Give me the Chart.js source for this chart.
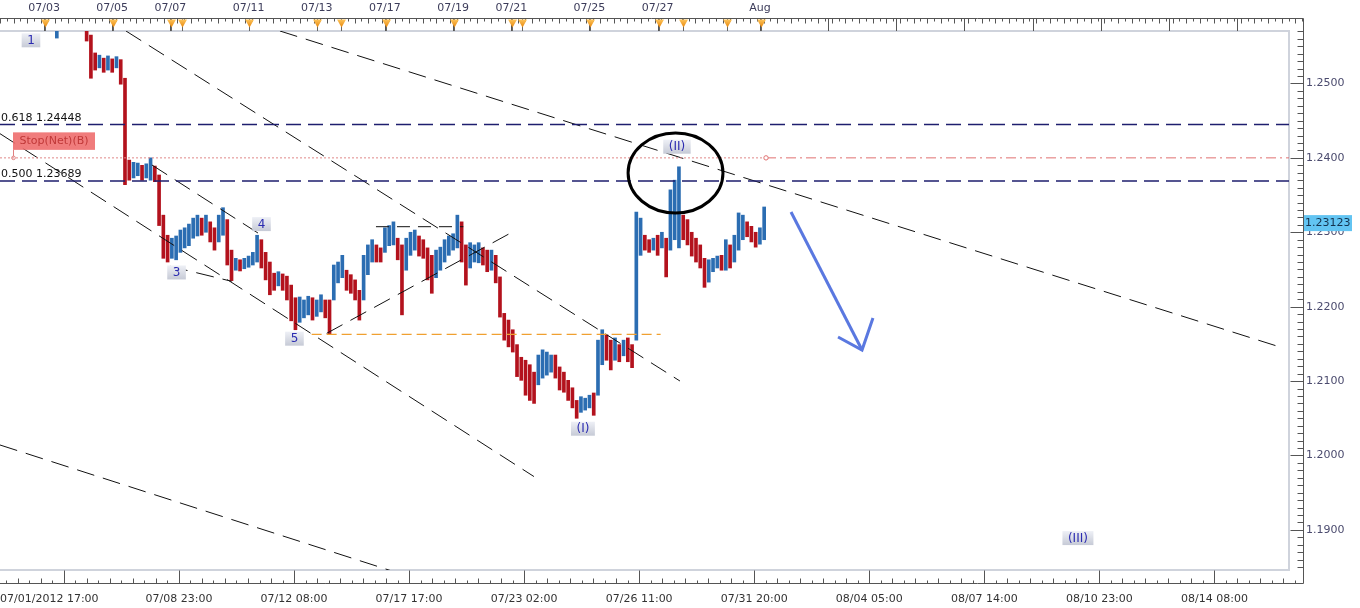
<!DOCTYPE html>
<html><head><meta charset="utf-8">
<script src="https://cdn.jsdelivr.net/npm/chart.js@4.4.1/dist/chart.umd.min.js"></script>
<style>html,body{margin:0;padding:0;background:#fff;overflow:hidden}#wrap{position:relative;width:1360px;height:608px}</style>
</head><body><div id="wrap"><canvas id="c" width="1360" height="608"></canvas></div>
<script>
// ---- price bars (3-hour bars, hour index counted in trading hours from 07/01/2012 17:00) ----
const startHour = 40;
const stepHours = 3;
const highs = [1.2579,1.2602,1.2598,1.2603,1.2597,1.2594,1.2590,1.2582,1.2565,1.2541,
1.2538,1.2534,1.2537,1.2533,1.2536,1.2532,1.2507,1.2397,1.2394,1.2393,
1.2390,1.2392,1.2400,1.2389,1.2377,1.2323,1.2296,1.2292,1.2295,1.2303,
1.2306,1.2311,1.2319,1.2323,1.2319,1.2323,1.2314,1.2306,1.2323,1.2333,
1.2317,1.2276,1.2265,1.2263,1.2265,1.2268,1.2273,1.2296,1.2290,1.2273,
1.2260,1.2245,1.2247,1.2244,1.2241,1.2229,1.2212,1.2213,1.2209,1.2214,
1.2212,1.2209,1.2216,1.2209,1.2209,1.2256,1.2260,1.2269,1.2249,1.2243,
1.2236,1.2222,1.2269,1.2283,1.2290,1.2283,1.2279,1.2306,1.2309,1.2314,
1.2292,1.2283,1.2292,1.2300,1.2303,1.2295,1.2290,1.2279,1.2269,1.2276,
1.2280,1.2290,1.2295,1.2298,1.2323,1.2314,1.2283,1.2286,1.2283,1.2286,
1.2279,1.2276,1.2276,1.2269,1.2240,1.2191,1.2182,1.2169,1.2149,1.2132,
1.2128,1.2122,1.2112,1.2135,1.2142,1.2139,1.2135,1.2135,1.2119,1.2112,
1.2101,1.2091,1.2074,1.2079,1.2077,1.2081,1.2084,1.2155,1.2169,1.2162,
1.2155,1.2158,1.2149,1.2155,1.2158,1.2149,1.2327,1.2319,1.2296,1.2290,
1.2292,1.2296,1.2300,1.2292,1.2357,1.2370,1.2388,1.2323,1.2317,1.2300,
1.2292,1.2283,1.2265,1.2263,1.2265,1.2268,1.2269,1.2290,1.2283,1.2296,
1.2326,1.2323,1.2314,1.2308,1.2300,1.2306,1.2334];
const lows = [1.2561,1.2580,1.2578,1.2582,1.2576,1.2574,1.2573,1.2557,1.2507,1.2518,
1.2521,1.2515,1.2518,1.2515,1.2521,1.2499,1.2364,1.2370,1.2373,1.2376,
1.2370,1.2373,1.2370,1.2368,1.2309,1.2265,1.2260,1.2265,1.2263,1.2273,
1.2279,1.2282,1.2292,1.2295,1.2296,1.2300,1.2287,1.2276,1.2287,1.2296,
1.2256,1.2235,1.2249,1.2248,1.2251,1.2253,1.2256,1.2260,1.2252,1.2236,
1.2216,1.2222,1.2228,1.2222,1.2209,1.2181,1.2169,1.2179,1.2185,1.2189,
1.2182,1.2187,1.2193,1.2185,1.2163,1.2209,1.2232,1.2239,1.2222,1.2218,
1.2209,1.2182,1.2209,1.2243,1.2260,1.2260,1.2260,1.2273,1.2282,1.2283,
1.2263,1.2189,1.2249,1.2269,1.2276,1.2268,1.2265,1.2236,1.2218,1.2239,
1.2249,1.2260,1.2269,1.2276,1.2279,1.2260,1.2229,1.2252,1.2260,1.2259,
1.2256,1.2247,1.2249,1.2232,1.2186,1.2155,1.2146,1.2139,1.2106,1.2101,
1.2081,1.2074,1.2070,1.2095,1.2104,1.2108,1.2112,1.2104,1.2088,1.2085,
1.2074,1.2064,1.2050,1.2058,1.2061,1.2064,1.2054,1.2081,1.2122,1.2128,
1.2115,1.2128,1.2126,1.2134,1.2126,1.2118,1.2155,1.2269,1.2276,1.2273,
1.2276,1.2269,1.2279,1.2240,1.2276,1.2290,1.2279,1.2290,1.2283,1.2268,
1.2260,1.2252,1.2226,1.2233,1.2247,1.2252,1.2249,1.2249,1.2252,1.2260,
1.2276,1.2290,1.2294,1.2287,1.2280,1.2284,1.2290];
const lastPrice = 1.23123;

// ---- axes ----
const yTickValues = [1.19, 1.20, 1.21, 1.22, 1.23, 1.24, 1.25];
const yTickLabels = ['1.1900','1.2000','1.2100','1.2200','1.2300','1.2400','1.2500'];
const xTickHours = [0, 126, 207, 288, 369, 450, 531, 612, 693, 774, 855];
const xTickLabels = ['07/01/2012 17:00','07/08 23:00','07/12 08:00','07/17 17:00','07/23 02:00','07/26 11:00','07/31 20:00','08/04 05:00','08/07 14:00','08/10 23:00','08/14 08:00'];
const topDateHours = [31, 79, 120, 175, 223, 271, 319, 360, 415, 463, 535];
const topDateLabels = ['07/03','07/05','07/07','07/11','07/13','07/17','07/19','07/21','07/25','07/27','Aug'];
const topFutureHours = [583, 631, 679, 727, 775, 823, 871];
const eventHours = [31.7, 79.6, 120.4, 128.1, 175.3, 223.2, 240.1, 271.8, 319.6, 360.5, 367.5, 415.4, 464, 480.9, 511.8, 535.8];

// ---- drawn levels / annotations (hour, price) ----
const fib618 = 1.24448, fib500 = 1.23689, stopLevel = 1.2400, supportLevel = 1.21629;
const trendLines = [
  [[88.7, 1.25705], [478.7, 1.21001]],
  [[0, 1.24325], [375.9, 1.19717]],
  [[197.1, 1.25705], [903.3, 1.21445]],
  [[0, 1.20141], [278.1, 1.18434]],
  [[119.7, 1.22543], [163.1, 1.22341]],
  [[107.0, 1.23904], [181.6, 1.22990]],
  [[230.0, 1.21642], [359.1, 1.22986]]
];
const neckLine = [[264.7, 1.23075], [326.2, 1.23075]];
const supportSpan = [219.4, 465.1];
const arrowShaft = [[556.9, 1.23272], [606.9, 1.21417]];
const arrowHead = [[590.0, 1.21592], [606.9, 1.21417], [614.6, 1.21848]];
const waveLabels = [
  {text: '1', h: 21.8, p: 1.2558},
  {text: '3', h: 124.3, p: 1.2246},
  {text: '4', h: 184.1, p: 1.2311},
  {text: '5', h: 207.3, p: 1.2157},
  {text: '(I)', h: 410.4, p: 1.2036},
  {text: '(II)', h: 476.6, p: 1.2415},
  {text: '(III)', h: 758.9, p: 1.1889}
];
const circleMark = {h: 475.6, p: 1.23797, rh: 33.4, rp: 0.005376};

const X_MIN = 0, X_MAX = 907.5, Y_MIN = 1.18461, Y_MAX = 1.25705;
const FONT = '"DejaVu Sans", Verdana, sans-serif';
const RED = '#b3121d', BLUE = '#2b6db2';

const pts = arr => arr.map(([h, p]) => ({x: h, y: p}));
const lineDs = (data, color, width, dash, extra) => Object.assign({
  type: 'line', data, borderColor: color, borderWidth: width, borderDash: dash,
  pointRadius: 0, pointHoverRadius: 0, fill: false, tension: 0, order: 0
}, extra || {});

const datasets = [
  {
    type: 'bar', order: 10,
    data: highs.map((hi, i) => ({x: startHour + i * stepHours, y: [lows[i], hi]})),
    barThickness: 3,
    backgroundColor: ctx => {
      const i = ctx.dataIndex;
      const mid = (highs[i] + lows[i]) / 2;
      const prev = i > 0 ? (highs[i - 1] + lows[i - 1]) / 2 : mid;
      return mid >= prev ? BLUE : RED;
    },
    borderWidth: 0
  },
  lineDs(pts([[X_MIN, fib618], [X_MAX, fib618]]), '#1e1e6e', 1.5, [15, 7]),
  lineDs(pts([[X_MIN, fib500], [X_MAX, fib500]]), '#1e1e6e', 1.5, [15, 7]),
  lineDs(pts([[X_MIN, stopLevel], [537.5, stopLevel]]), '#e08888', 1, [2, 2]),
  lineDs(pts([[539.3, stopLevel], [X_MAX, stopLevel]]), '#e07070', 1, [10, 4, 2, 4],
    {pointRadius: [2.2, 0], pointBackgroundColor: '#fff', pointBorderColor: '#e07070', pointBorderWidth: 1}),
  lineDs(pts([[supportSpan[0], supportLevel], [supportSpan[1], supportLevel]]), '#f0a030', 1.2, [10, 5]),
  lineDs(pts(neckLine), '#111', 1, [13, 8]),
  ...trendLines.map(l => lineDs(pts(l), '#111', 1, [18, 9])),
  lineDs(pts(arrowShaft), '#5a78e0', 3, []),
  lineDs(pts(arrowHead), '#5a78e0', 3, [])
];

const overlay = {
  id: 'overlay',
  beforeDatasetsDraw(chart) {
    const {ctx, chartArea: a} = chart;
    ctx.save();
    ctx.strokeStyle = '#cfd3dc';
    ctx.lineWidth = 2;
    ctx.beginPath();
    ctx.moveTo(0, a.top); ctx.lineTo(a.right, a.top); ctx.lineTo(a.right, a.bottom); ctx.lineTo(0, a.bottom);
    ctx.stroke();
    ctx.restore();
  },
  afterDraw(chart) {
    const {ctx, chartArea: a, scales} = chart;
    const X = h => scales.x.getPixelForValue(h);
    const Y = p => scales.y.getPixelForValue(p);
    const axisX = 1303.5, rulerY = 18.5, bottomY = 583.5;
    ctx.save();
    const seg = (x1, y1, x2, y2) => { ctx.beginPath(); ctx.moveTo(x1, y1); ctx.lineTo(x2, y2); ctx.stroke(); };

    // top ruler
    ctx.strokeStyle = '#555';
    ctx.lineWidth = 1;
    seg(0, rulerY, axisX, rulerY);
    let n = 0;
    for (let h = 0; X(h) < axisX; h += 4.8, n++) {
      const px = Math.round(X(h)) + 0.5;
      seg(px, rulerY, px, rulerY + (n % 2 ? 3 : 5));
    }
    [...topDateHours, ...topFutureHours].forEach(h => {
      const px = Math.round(X(h)) + 0.5;
      seg(px, rulerY, px, a.top);
    });
    // event markers
    eventHours.forEach(h => {
      const px = Math.round(X(h)) + 0.5;
      ctx.strokeStyle = '#666';
      seg(px, rulerY, px, a.top);
      const g = ctx.createLinearGradient(0, 19, 0, 27);
      g.addColorStop(0, '#ffc860'); g.addColorStop(1, '#e88a10');
      ctx.fillStyle = g;
      ctx.beginPath();
      ctx.moveTo(px - 4.5, 19.5); ctx.lineTo(px + 4.5, 19.5); ctx.lineTo(px, 27.5); ctx.closePath();
      ctx.fill();
    });
    // top labels
    ctx.fillStyle = '#3c3c5a';
    ctx.font = '11px ' + FONT;
    ctx.textAlign = 'center';
    ctx.textBaseline = 'middle';
    topDateHours.forEach((h, i) => ctx.fillText(topDateLabels[i], X(h), 8));

    // right axis
    ctx.strokeStyle = '#555';
    seg(axisX, rulerY, axisX, bottomY);
    for (let k = 1185; k <= 1257; k++) {
      const py = Math.round(Y(k / 1000)) + 0.5;
      if (py < rulerY || py > bottomY) continue;
      seg(axisX - (k % 10 === 0 ? 13 : 6), py, axisX, py);
    }
    // bottom axis
    seg(0, bottomY, axisX, bottomY);
    let m = 0;
    for (let h = 45 - 81; X(h) <= axisX; h += 8.1, m++) {
      const px = Math.round(X(h)) + 0.5;
      if (px < 0) continue;
      const len = (m % 10 === 0) ? 13 : (m % 2 ? 3 : 5);
      seg(px, bottomY - len, px, bottomY);
    }

    // fib labels
    ctx.fillStyle = '#111';
    ctx.textAlign = 'left';
    ctx.textBaseline = 'alphabetic';
    ctx.fillText('0.618 ' + fib618.toFixed(5), 1, Y(fib618) - 4);
    ctx.fillText('0.500 ' + fib500.toFixed(5), 1, Y(fib500) - 4);

    // stop label
    const sy = Y(stopLevel);
    ctx.strokeStyle = '#e08080';
    seg(13.5, sy - 8, 13.5, sy - 1.5);
    ctx.beginPath(); ctx.arc(13.5, sy, 1.8, 0, Math.PI * 2); ctx.stroke();
    ctx.fillStyle = 'rgba(238,110,110,0.9)';
    ctx.fillRect(13, sy - 25.5, 82, 17.5);
    ctx.fillStyle = '#c03838';
    ctx.textAlign = 'center';
    ctx.textBaseline = 'middle';
    ctx.fillText('Stop(Net)(B)', 54, sy - 16.5);

    // wave labels
    ctx.font = '12px ' + FONT;
    waveLabels.forEach(w => {
      const cx = X(w.h), cy = Y(w.p);
      const tw = ctx.measureText(w.text).width + 11;
      const g = ctx.createLinearGradient(0, cy - 7, 0, cy + 7);
      g.addColorStop(0, '#eef0f6'); g.addColorStop(1, '#c6cad6');
      ctx.fillStyle = g;
      ctx.fillRect(cx - tw / 2, cy - 7, tw, 14);
      ctx.fillStyle = '#2b2bb0';
      ctx.fillText(w.text, cx, cy + 0.5);
    });

    // circle
    ctx.strokeStyle = '#000';
    ctx.lineWidth = 3;
    const ex = X(circleMark.h), ey = Y(circleMark.p);
    const rx = X(circleMark.h + circleMark.rh) - ex, ry = Y(circleMark.p - circleMark.rp) - ey;
    ctx.beginPath(); ctx.ellipse(ex, ey, rx, ry, 0, 0, Math.PI * 2); ctx.stroke();

    // current price tag
    ctx.font = '11px ' + FONT;
    const py = Y(lastPrice);
    ctx.fillStyle = '#62c4f2';
    ctx.fillRect(1304, py - 8, 48, 16);
    ctx.fillStyle = '#14324e';
    ctx.textAlign = 'left';
    ctx.fillText(lastPrice.toFixed(5), 1305, py + 0.5);
    ctx.restore();
  }
};

Chart.defaults.font.family = FONT;
Chart.defaults.font.size = 11;

new Chart(document.getElementById('c'), {
  type: 'bar',
  data: {datasets},
  options: {
    responsive: false, animation: false, devicePixelRatio: 1,
    layout: {autoPadding: false, padding: {top: 31, left: 0, right: 0, bottom: 0}},
    plugins: {legend: {display: false}, tooltip: {enabled: false}},
    scales: {
      x: {
        type: 'linear', min: X_MIN, max: X_MAX, offset: false,
        grid: {display: false, drawTicks: false}, border: {display: false},
        afterBuildTicks: s => { s.ticks = [...xTickHours, 960].map(v => ({value: v})); },
        afterFit: s => { s.height = 38; s.paddingLeft = 0; s.paddingRight = 0; },
        ticks: {autoSkip: false, maxRotation: 0, align: 'inner', padding: 23, color: '#333',
          callback: (v, i) => xTickLabels[i] || ''}
      },
      y: {
        type: 'linear', position: 'right', min: Y_MIN, max: Y_MAX,
        grid: {display: false, drawTicks: false}, border: {display: false},
        afterBuildTicks: s => { s.ticks = yTickValues.map(v => ({value: v})); },
        afterFit: s => { s.width = 71; s.paddingTop = 0; s.paddingBottom = 0; },
        ticks: {padding: 17, color: '#4b4b6e', callback: (v, i) => yTickLabels[i]}
      }
    }
  },
  plugins: [overlay]
});
</script></body></html>
